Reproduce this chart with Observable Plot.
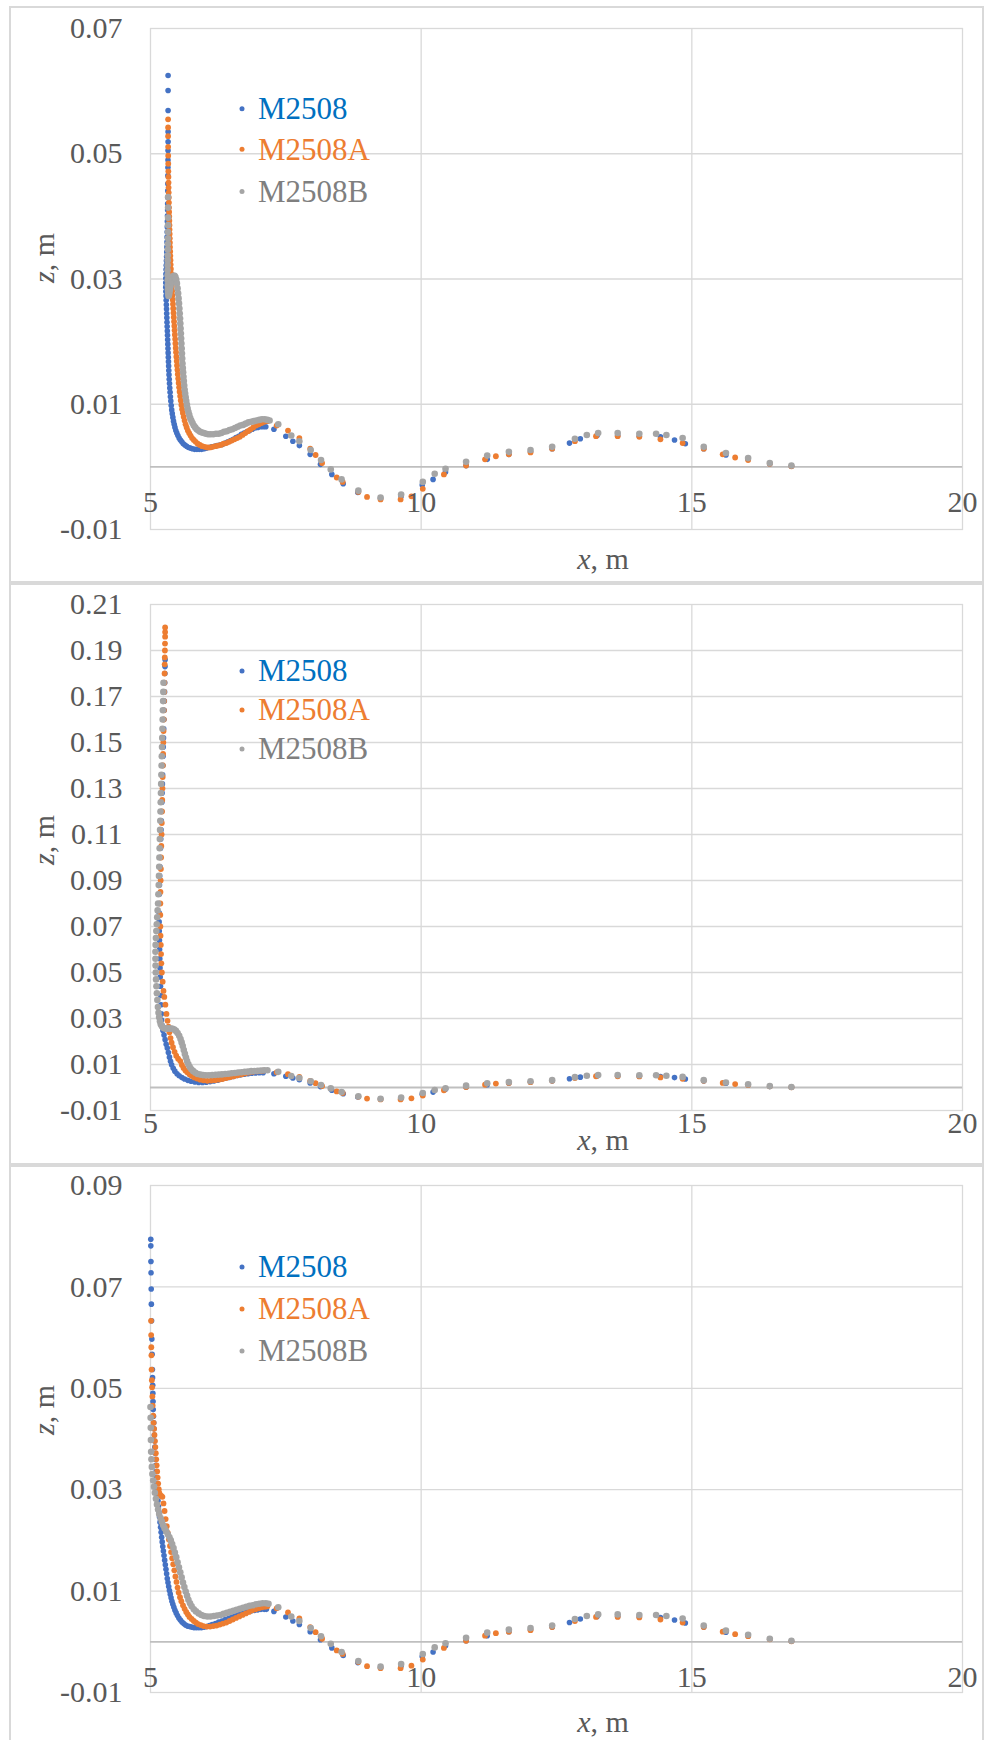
<!DOCTYPE html>
<html><head><meta charset="utf-8">
<script src="https://cdn.jsdelivr.net/npm/d3@7"></script>
<script src="https://cdn.jsdelivr.net/npm/@observablehq/plot@0.6"></script>
<style>
body{margin:0;background:#fff;}
#wrap{position:relative;width:984px;height:1740px;overflow:hidden;background:#fff;}
.frame{position:absolute;border:2px solid #D9D9D9;box-sizing:border-box;}
.pl{position:absolute;left:0;}
</style></head><body><div id="wrap"></div>
<script>
// ---------- DATA ----------
const seriesNames = ["M2508", "M2508A", "M2508B"];
const xTicks = [5, 10, 15, 20];
const yTicksP1 = [-0.01, 0.01, 0.03, 0.05, 0.07];
const yTicksP2 = [-0.01, 0.01, 0.03, 0.05, 0.07, 0.09, 0.11, 0.13, 0.15, 0.17, 0.19, 0.21];
const yTicksP3 = [-0.01, 0.01, 0.03, 0.05, 0.07, 0.09];

// far-field measurement stations (same in all three panels)
const farBlue = [[7.28,0.0060],[7.50,0.0049],[7.63,0.0041],[7.75,0.0034],[7.95,0.0020],[8.14,0.0004],[8.35,-0.0012],[8.56,-0.0027],[8.83,-0.0041],[9.25,-0.0050],[9.63,-0.0047],[10.02,-0.0029],[10.22,-0.0020],[10.45,-0.0008],[10.83,0.0002],[11.22,0.0012],[11.62,0.0020],[12.02,0.0024],[12.42,0.0029],[12.74,0.0038],[12.94,0.0045],[13.25,0.0050],[13.63,0.0050],[14.03,0.0049],[14.42,0.0048],[14.68,0.0043],[14.88,0.0037],[15.22,0.0029],[15.63,0.0019],[16.04,0.0012],[16.44,0.0005],[16.84,0.0001]];
const farOrange = [[7.33,0.0066],[7.54,0.0058],[7.75,0.0046],[7.95,0.0029],[8.05,0.0019],[8.17,0.0006],[8.44,-0.0017],[8.55,-0.0024],[8.84,-0.0040],[9.00,-0.0048],[9.25,-0.0052],[9.62,-0.0052],[9.82,-0.0047],[10.03,-0.0035],[10.42,-0.0012],[10.83,0.0002],[11.18,0.0012],[11.38,0.0017],[11.62,0.0020],[12.02,0.0023],[12.42,0.0029],[12.84,0.0041],[13.23,0.0049],[13.63,0.0049],[14.03,0.0048],[14.42,0.0044],[14.83,0.0038],[15.22,0.0029],[15.57,0.0020],[15.80,0.0015],[16.04,0.0011],[16.44,0.0005],[16.84,0.0001]];
const farGray = [[7.36,0.0068],[7.60,0.0050],[7.75,0.0041],[7.96,0.0027],[8.15,0.0011],[8.33,-0.0004],[8.53,-0.0020],[8.84,-0.0038],[9.25,-0.0049],[9.63,-0.0044],[10.03,-0.0024],[10.25,-0.0011],[10.45,-0.0003],[10.83,0.0008],[11.22,0.0018],[11.62,0.0024],[12.02,0.0027],[12.42,0.0032],[12.84,0.0045],[13.06,0.0051],[13.27,0.0054],[13.63,0.0054],[14.03,0.0053],[14.34,0.0053],[14.53,0.0051],[14.83,0.0046],[15.22,0.0032],[15.63,0.0022],[16.04,0.0014],[16.44,0.0006],[16.84,0.0002]];

// panel 1 near field
const p1Blue = [[5.325,0.0625],[5.325,0.0601],[5.325,0.0569],[5.325,0.0535],[5.325,0.0519],[5.324,0.0505],[5.323,0.049],[5.322,0.0478],[5.321,0.0465],[5.32,0.0452],[5.319,0.0441],[5.318,0.043],[5.317,0.042],[5.316,0.041],[5.314,0.0401],[5.312,0.0392],[5.31,0.0383],[5.308,0.0375],[5.306,0.0367],[5.304,0.0359],[5.302,0.0351],[5.3,0.0343],[5.297,0.0336],[5.294,0.0329],[5.291,0.0322],[5.288,0.0315],[5.285,0.0308],[5.283,0.0301],[5.282,0.0294],[5.282,0.0287],[5.284,0.028],[5.287,0.0273],[5.29,0.0266],[5.293,0.0259],[5.296,0.0252],[5.299,0.0245],[5.302,0.0238],[5.305,0.0231],[5.308,0.0224],[5.311,0.0217],[5.314,0.021],[5.317,0.0203],[5.32,0.0196],[5.323,0.0189],[5.326,0.0182],[5.329,0.0175],[5.332,0.0168],[5.335,0.0161],[5.338,0.0154],[5.342,0.0147],[5.346,0.014],[5.351,0.0133],[5.356,0.0126],[5.362,0.0119],[5.368,0.0112],[5.375,0.0105],[5.383,0.0098],[5.392,0.0091],[5.402,0.0085],[5.413,0.0079],[5.425,0.0073],[5.438,0.0068],[5.452,0.0063],[5.468,0.0058],[5.486,0.0054],[5.506,0.005],[5.528,0.0046],[5.552,0.0043],[5.578,0.004],[5.606,0.0037],[5.636,0.0035],[5.668,0.0033],[5.702,0.0031],[5.738,0.003],[5.776,0.0029],[5.816,0.0028],[5.858,0.0028],[5.9,0.0028],[5.944,0.0028],[5.988,0.0029],[6.034,0.003],[6.08,0.0031],[6.13,0.0032],[6.18,0.0033],[6.23,0.0034],[6.28,0.0035],[6.33,0.0036],[6.38,0.0038],[6.43,0.004],[6.48,0.0042],[6.53,0.0044],[6.58,0.0047],[6.63,0.0049],[6.68,0.0052],[6.73,0.0054],[6.78,0.0056],[6.83,0.0058],[6.88,0.006],[6.93,0.0062],[6.98,0.0063],[7.03,0.0064],[7.08,0.0064],[7.13,0.0064]];
const p1Orange = [[5.325,0.0555],[5.325,0.0542],[5.325,0.0528],[5.326,0.0511],[5.327,0.0497],[5.328,0.0484],[5.33,0.0472],[5.331,0.0463],[5.333,0.0454],[5.334,0.0446],[5.336,0.0438],[5.338,0.043],[5.34,0.0422],[5.342,0.0414],[5.344,0.0407],[5.346,0.04],[5.348,0.0393],[5.35,0.0386],[5.352,0.0379],[5.354,0.0372],[5.356,0.0365],[5.358,0.0358],[5.36,0.0351],[5.363,0.0344],[5.366,0.0337],[5.369,0.033],[5.372,0.0323],[5.376,0.0316],[5.38,0.0309],[5.385,0.0302],[5.39,0.0295],[5.395,0.0288],[5.4,0.0281],[5.405,0.0274],[5.41,0.0267],[5.415,0.026],[5.42,0.0253],[5.425,0.0246],[5.43,0.0239],[5.435,0.0232],[5.44,0.0225],[5.445,0.0218],[5.45,0.0211],[5.455,0.0204],[5.46,0.0197],[5.466,0.019],[5.472,0.0183],[5.478,0.0176],[5.484,0.0169],[5.49,0.0162],[5.497,0.0155],[5.504,0.0148],[5.512,0.0141],[5.52,0.0134],[5.529,0.0127],[5.538,0.012],[5.548,0.0113],[5.559,0.0106],[5.571,0.0099],[5.584,0.0092],[5.598,0.0086],[5.613,0.008],[5.63,0.0074],[5.648,0.0068],[5.668,0.0063],[5.69,0.0058],[5.714,0.0054],[5.74,0.005],[5.768,0.0046],[5.8,0.0043],[5.835,0.004],[5.872,0.0037],[5.912,0.0035],[5.955,0.0033],[6.0,0.0032],[6.05,0.0031],[6.1,0.0031],[6.15,0.0032],[6.2,0.0033],[6.25,0.0034],[6.3,0.0035],[6.35,0.0037],[6.4,0.0038],[6.45,0.004],[6.5,0.0042],[6.55,0.0044],[6.6,0.0046],[6.65,0.0048],[6.7,0.0051],[6.75,0.0054],[6.8,0.0057],[6.85,0.006],[6.9,0.0063],[6.95,0.0066],[7.0,0.0068],[7.05,0.007],[7.1,0.0072],[7.16,0.0073]];
const p1Gray = [[5.325,0.0431],[5.325,0.0414],[5.325,0.0398],[5.324,0.0386],[5.323,0.0375],[5.322,0.0365],[5.321,0.0356],[5.32,0.0347],[5.319,0.0338],[5.318,0.033],[5.317,0.0322],[5.316,0.0314],[5.316,0.0306],[5.317,0.0298],[5.319,0.029],[5.322,0.0283],[5.326,0.0277],[5.332,0.0273],[5.34,0.0274],[5.35,0.0278],[5.36,0.0283],[5.372,0.0289],[5.385,0.0295],[5.4,0.03],[5.415,0.0303],[5.43,0.0305],[5.445,0.0305],[5.46,0.0303],[5.475,0.0299],[5.488,0.0293],[5.5,0.0285],[5.51,0.0277],[5.519,0.0269],[5.527,0.0261],[5.534,0.0253],[5.54,0.0245],[5.546,0.0237],[5.551,0.0229],[5.556,0.0221],[5.561,0.0213],[5.566,0.0205],[5.571,0.0197],[5.576,0.0189],[5.581,0.0181],[5.586,0.0173],[5.591,0.0165],[5.597,0.0158],[5.603,0.0151],[5.609,0.0144],[5.616,0.0137],[5.623,0.013],[5.631,0.0123],[5.64,0.0117],[5.65,0.0111],[5.661,0.0105],[5.673,0.0099],[5.686,0.0093],[5.7,0.0088],[5.716,0.0083],[5.734,0.0078],[5.754,0.0074],[5.776,0.007],[5.8,0.0066],[5.826,0.0063],[5.854,0.006],[5.884,0.0058],[5.916,0.0056],[5.95,0.0055],[5.986,0.0054],[6.025,0.0053],[6.065,0.0052],[6.11,0.0052],[6.16,0.0052],[6.21,0.0053],[6.26,0.0053],[6.31,0.0054],[6.36,0.0056],[6.41,0.0057],[6.46,0.0059],[6.51,0.006],[6.56,0.0062],[6.61,0.0064],[6.66,0.0066],[6.71,0.0067],[6.76,0.0069],[6.81,0.0071],[6.86,0.0072],[6.91,0.0073],[6.96,0.0074],[7.01,0.0075],[7.06,0.0076],[7.11,0.0076],[7.16,0.0075],[7.2,0.0074]];

// panel 2 near field
const p2Blue = [[5.27,0.186],[5.268,0.183],[5.266,0.18],[5.263,0.176],[5.26,0.172],[5.256,0.168],[5.252,0.164],[5.248,0.16],[5.244,0.156],[5.24,0.152],[5.236,0.148],[5.232,0.144],[5.228,0.14],[5.224,0.136],[5.22,0.132],[5.215,0.128],[5.21,0.124],[5.205,0.12],[5.2,0.116],[5.195,0.112],[5.19,0.108],[5.185,0.104],[5.18,0.1],[5.175,0.096],[5.17,0.092],[5.166,0.088],[5.163,0.084],[5.161,0.08],[5.16,0.076],[5.16,0.072],[5.162,0.068],[5.165,0.064],[5.168,0.06],[5.172,0.056],[5.176,0.052],[5.18,0.048],[5.185,0.044],[5.19,0.04],[5.195,0.036],[5.2,0.032],[5.205,0.0293],[5.215,0.027],[5.23,0.0248],[5.25,0.0228],[5.27,0.0208],[5.29,0.0188],[5.31,0.0172],[5.33,0.0152],[5.35,0.0132],[5.37,0.0114],[5.39,0.0099],[5.42,0.0084],[5.45,0.0071],[5.49,0.006],[5.53,0.0051],[5.58,0.0043],[5.63,0.0037],[5.69,0.0031],[5.75,0.0027],[5.82,0.0024],[5.89,0.0022],[5.96,0.0022],[6.03,0.0023],[6.1,0.0025],[6.17,0.0028],[6.24,0.0032],[6.31,0.0036],[6.38,0.004],[6.45,0.0044],[6.52,0.0048],[6.59,0.0052],[6.66,0.0055],[6.73,0.0058],[6.8,0.006],[6.87,0.0062],[6.94,0.0063],[7.01,0.0064],[7.08,0.0064]];
const p2Orange = [[5.27,0.2],[5.27,0.198],[5.27,0.196],[5.268,0.193],[5.266,0.19],[5.264,0.187],[5.262,0.184],[5.26,0.18],[5.257,0.176],[5.254,0.172],[5.251,0.168],[5.248,0.164],[5.245,0.16],[5.241,0.155],[5.237,0.15],[5.233,0.145],[5.229,0.14],[5.225,0.135],[5.221,0.13],[5.217,0.125],[5.213,0.12],[5.209,0.115],[5.205,0.11],[5.2,0.105],[5.196,0.1],[5.192,0.095],[5.188,0.09],[5.184,0.085],[5.182,0.08],[5.181,0.075],[5.182,0.07],[5.185,0.066],[5.19,0.062],[5.195,0.058],[5.2,0.054],[5.21,0.05],[5.225,0.046],[5.24,0.042],[5.255,0.0394],[5.275,0.036],[5.295,0.032],[5.315,0.029],[5.333,0.0265],[5.35,0.024],[5.37,0.0215],[5.39,0.0195],[5.415,0.0175],[5.445,0.0155],[5.475,0.0138],[5.51,0.0125],[5.55,0.0115],[5.58,0.0098],[5.61,0.0085],[5.645,0.0074],[5.68,0.0066],[5.72,0.0058],[5.76,0.0051],[5.81,0.0044],[5.86,0.0039],[5.92,0.0034],[5.98,0.0031],[6.05,0.0029],[6.12,0.003],[6.19,0.0032],[6.26,0.0034],[6.33,0.0037],[6.4,0.0041],[6.47,0.0045],[6.54,0.0049],[6.61,0.0053],[6.68,0.0057],[6.75,0.0061],[6.82,0.0065],[6.89,0.0068],[6.96,0.007],[7.03,0.0072],[7.08,0.0073]];
const p2Gray = [[5.24,0.176],[5.237,0.172],[5.233,0.168],[5.229,0.164],[5.225,0.16],[5.221,0.156],[5.217,0.152],[5.213,0.148],[5.209,0.144],[5.205,0.14],[5.201,0.136],[5.197,0.132],[5.193,0.128],[5.189,0.124],[5.185,0.12],[5.181,0.116],[5.177,0.112],[5.173,0.108],[5.169,0.104],[5.165,0.1],[5.161,0.096],[5.157,0.092],[5.152,0.088],[5.146,0.084],[5.14,0.08],[5.132,0.077],[5.124,0.074],[5.116,0.071],[5.108,0.068],[5.1,0.065],[5.095,0.062],[5.092,0.059],[5.092,0.056],[5.094,0.053],[5.098,0.05],[5.103,0.047],[5.11,0.044],[5.118,0.041],[5.127,0.038],[5.137,0.035],[5.148,0.0325],[5.16,0.0305],[5.175,0.0288],[5.19,0.0275],[5.21,0.0266],[5.235,0.026],[5.26,0.0257],[5.29,0.0256],[5.32,0.0256],[5.35,0.0256],[5.38,0.0256],[5.41,0.0255],[5.44,0.0252],[5.47,0.0246],[5.5,0.0237],[5.53,0.0225],[5.555,0.0211],[5.575,0.0196],[5.595,0.018],[5.615,0.0163],[5.635,0.0146],[5.655,0.013],[5.675,0.0115],[5.7,0.0101],[5.725,0.0089],[5.755,0.0079],[5.79,0.0071],[5.83,0.0064],[5.87,0.0059],[5.92,0.0056],[5.97,0.0054],[6.02,0.0053],[6.08,0.0053],[6.14,0.0054],[6.2,0.0055],[6.26,0.0056],[6.32,0.0057],[6.38,0.0059],[6.44,0.006],[6.5,0.0062],[6.56,0.0063],[6.62,0.0065],[6.68,0.0066],[6.74,0.0068],[6.8,0.0069],[6.86,0.0071],[6.92,0.0072],[6.98,0.0073],[7.04,0.0074],[7.1,0.0075],[7.16,0.0075]];

// panel 3 near field
const p3Blue = [[5.005,0.0794],[5.006,0.0781],[5.008,0.075],[5.01,0.0728],[5.013,0.0696],[5.016,0.0666],[5.02,0.0633],[5.025,0.0597],[5.03,0.0567],[5.035,0.0537],[5.038,0.0521],[5.041,0.0506],[5.044,0.049],[5.047,0.0474],[5.05,0.0458],[5.055,0.0445],[5.06,0.0432],[5.065,0.042],[5.07,0.0408],[5.075,0.0396],[5.08,0.0384],[5.086,0.0372],[5.092,0.036],[5.098,0.0348],[5.104,0.0336],[5.11,0.0324],[5.117,0.0312],[5.124,0.03],[5.131,0.0289],[5.139,0.0278],[5.147,0.0267],[5.156,0.0256],[5.166,0.0246],[5.176,0.0236],[5.186,0.0226],[5.196,0.0216],[5.206,0.0206],[5.216,0.0197],[5.227,0.0188],[5.238,0.0179],[5.25,0.017],[5.262,0.0161],[5.274,0.0152],[5.286,0.0143],[5.298,0.0134],[5.31,0.0125],[5.323,0.0117],[5.336,0.0109],[5.35,0.0101],[5.365,0.0094],[5.38,0.0087],[5.396,0.008],[5.413,0.0074],[5.432,0.0068],[5.452,0.0062],[5.474,0.0057],[5.498,0.0052],[5.524,0.0047],[5.552,0.0043],[5.582,0.0039],[5.614,0.0036],[5.648,0.0033],[5.684,0.0031],[5.722,0.003],[5.762,0.0029],[5.804,0.0028],[5.848,0.0028],[5.894,0.0028],[5.94,0.0028],[5.99,0.0029],[6.04,0.003],[6.09,0.0032],[6.14,0.0034],[6.2,0.0036],[6.26,0.0039],[6.32,0.0041],[6.38,0.0044],[6.44,0.0046],[6.5,0.0049],[6.56,0.0051],[6.62,0.0054],[6.68,0.0056],[6.74,0.0058],[6.8,0.006],[6.86,0.0061],[6.92,0.0062],[6.98,0.0063],[7.04,0.0064],[7.1,0.0064],[7.14,0.0064]];
const p3Orange = [[5.01,0.0633],[5.012,0.0605],[5.015,0.0581],[5.017,0.0565],[5.02,0.0537],[5.025,0.0516],[5.03,0.0502],[5.035,0.0484],[5.04,0.0466],[5.05,0.0446],[5.058,0.0432],[5.066,0.042],[5.074,0.0408],[5.082,0.0396],[5.09,0.0384],[5.098,0.0372],[5.106,0.036],[5.114,0.0348],[5.123,0.0336],[5.132,0.0324],[5.142,0.0312],[5.153,0.0301],[5.165,0.0293],[5.18,0.0289],[5.2,0.0288],[5.22,0.0286],[5.24,0.0273],[5.26,0.0258],[5.28,0.0242],[5.3,0.0228],[5.32,0.0215],[5.34,0.0202],[5.36,0.0189],[5.38,0.0177],[5.4,0.0165],[5.42,0.0153],[5.44,0.0141],[5.46,0.0129],[5.48,0.0118],[5.5,0.0107],[5.52,0.0097],[5.545,0.0088],[5.57,0.008],[5.6,0.0072],[5.63,0.0065],[5.66,0.0059],[5.69,0.0054],[5.72,0.0049],[5.76,0.0045],[5.8,0.0041],[5.84,0.0038],[5.88,0.0035],[5.93,0.0033],[5.98,0.0031],[6.04,0.003],[6.1,0.003],[6.16,0.0031],[6.22,0.0032],[6.28,0.0034],[6.34,0.0036],[6.4,0.0038],[6.46,0.0041],[6.52,0.0044],[6.58,0.0047],[6.64,0.005],[6.7,0.0053],[6.76,0.0056],[6.82,0.0059],[6.88,0.0062],[6.94,0.0064],[7.0,0.0066],[7.06,0.0068],[7.12,0.0069],[7.16,0.007]];
const p3Gray = [[5.0,0.0463],[5.003,0.0442],[5.005,0.0422],[5.008,0.0398],[5.012,0.0375],[5.018,0.036],[5.025,0.0345],[5.035,0.0331],[5.05,0.0318],[5.065,0.0306],[5.08,0.0294],[5.1,0.0282],[5.12,0.0271],[5.14,0.0261],[5.16,0.0252],[5.185,0.0244],[5.21,0.0237],[5.235,0.023],[5.26,0.0224],[5.29,0.0218],[5.32,0.0212],[5.35,0.0206],[5.375,0.02],[5.4,0.0193],[5.425,0.0185],[5.45,0.0176],[5.475,0.0167],[5.5,0.0157],[5.525,0.0147],[5.55,0.0137],[5.575,0.0127],[5.6,0.0117],[5.625,0.0108],[5.65,0.0099],[5.675,0.0091],[5.7,0.0083],[5.73,0.0076],[5.76,0.007],[5.8,0.0064],[5.84,0.006],[5.89,0.0056],[5.94,0.0053],[5.99,0.0051],[6.05,0.005],[6.11,0.005],[6.17,0.0051],[6.23,0.0052],[6.29,0.0053],[6.35,0.0055],[6.41,0.0057],[6.47,0.0059],[6.53,0.0061],[6.59,0.0063],[6.65,0.0065],[6.71,0.0067],[6.77,0.0069],[6.83,0.0071],[6.89,0.0072],[6.95,0.0074],[7.01,0.0075],[7.07,0.0076],[7.13,0.0076],[7.18,0.0075]];

// ---------- STYLE / LAYOUT ----------
const dotColors = ["#4472C4", "#ED7D31", "#A5A5A5"];
const legendTextColors = ["#0070C0", "#ED7D31", "#7F7F7F"];
const dotR = [2.8, 2.9, 3.3];
const FONT = '"Liberation Serif", "Times New Roman", "DejaVu Serif", serif';
const TXT = "#595959";

const panels = [
  {top: 0, height: 582, mt: 28, mb: 53, yDomain: [-0.01, 0.07], yTicks: yTicksP1,
   near: [p1Blue, p1Orange, p1Gray], legendY: [108.8, 149.3, 191.4], yTitleY: 258, xTitleBase: 569},
  {top: 582, height: 582, mt: 22, mb: 54, yDomain: [-0.01, 0.21], yTicks: yTicksP2,
   near: [p2Blue, p2Orange, p2Gray], legendY: [671, 710, 749], yTitleY: 840, xTitleBase: 1150},
  {top: 1164, height: 576, mt: 21, mb: 48, yDomain: [-0.01, 0.09], yTicks: yTicksP3,
   near: [p3Blue, p3Orange, p3Gray], legendY: [1267, 1309, 1351], yTitleY: 1410, xTitleBase: 1732}
];
const frames = [[6, 577], [583, 582], [1165, 600]];
const farSets = [farBlue, farOrange, farGray];

const wrap = document.getElementById("wrap");
frames.forEach(([t, h]) => {
  const f = document.createElement("div");
  f.className = "frame";
  f.style.cssText = `left:9px;top:${t}px;width:975px;height:${h}px;`;
  wrap.appendChild(f);
});

panels.forEach(p => {
  const rows = [0, 1, 2].map(i => p.near[i].concat(farSets[i]).map(([x, z]) => ({x, z})));
  const [ymin, ymax] = p.yDomain;
  const svgEl = Plot.plot({
    width: 984, height: p.height,
    marginLeft: 150, marginRight: 22, marginTop: p.mt, marginBottom: p.mb,
    x: {domain: [5, 20], axis: null},
    y: {domain: p.yDomain, axis: null},
    style: {background: "transparent", overflow: "visible", fontFamily: FONT},
    marks: [
      Plot.ruleY(p.yTicks.filter(t => t !== ymin && t !== ymax), {y: d => d, stroke: "#D9D9D9", strokeWidth: 1.3}),
      Plot.ruleX(xTicks.filter(t => t !== 5 && t !== 20), {x: d => d, stroke: "#D9D9D9", strokeWidth: 1.3}),
      Plot.frame({stroke: "#D9D9D9", strokeWidth: 1.3}),
      Plot.ruleY([0], {stroke: "#BFBFBF", strokeWidth: 1.8}),
      ...rows.map((r, i) => Plot.dot(r, {x: "x", y: "z", r: dotR[i], fill: dotColors[i], stroke: "none"})),
      Plot.text(p.yTicks, {x: () => 5, y: d => d, text: d => d.toFixed(2), textAnchor: "end", dx: -28,
        fontSize: 30, fill: TXT, fontFamily: FONT}),
      Plot.text(xTicks, {x: d => d, y: () => 0, dy: 36, text: d => String(d),
        fontSize: 30, fill: TXT, fontFamily: FONT})
    ]
  });
  svgEl.classList.add("pl");
  svgEl.style.top = p.top + "px";
  wrap.appendChild(svgEl);
  const svg = d3.select(svgEl);

  // y title
  const yt = svg.append("text")
    .attr("transform", `translate(54,${p.yTitleY - p.top}) rotate(-90)`)
    .attr("text-anchor", "middle").attr("fill", TXT)
    .style("font-family", FONT).style("font-size", "30px");
  yt.append("tspan").attr("font-style", "italic").text("z");
  yt.append("tspan").text(", m");

  // x title
  const xt = svg.append("text")
    .attr("x", 603).attr("y", p.xTitleBase - p.top)
    .attr("text-anchor", "middle").attr("fill", TXT)
    .style("font-family", FONT).style("font-size", "30px");
  xt.append("tspan").attr("font-style", "italic").text("x");
  xt.append("tspan").text(", m");

  // legend
  seriesNames.forEach((name, i) => {
    const cy = p.legendY[i] - p.top;
    svg.append("circle").attr("cx", 242).attr("cy", cy).attr("r", 2.5).attr("fill", dotColors[i]);
    svg.append("text").attr("x", 258).attr("y", cy + 10.3)
      .attr("text-anchor", "start")
      .attr("fill", legendTextColors[i])
      .style("font-family", FONT).style("font-size", "31px")
      .text(name);
  });
});
</script>
</body></html>
